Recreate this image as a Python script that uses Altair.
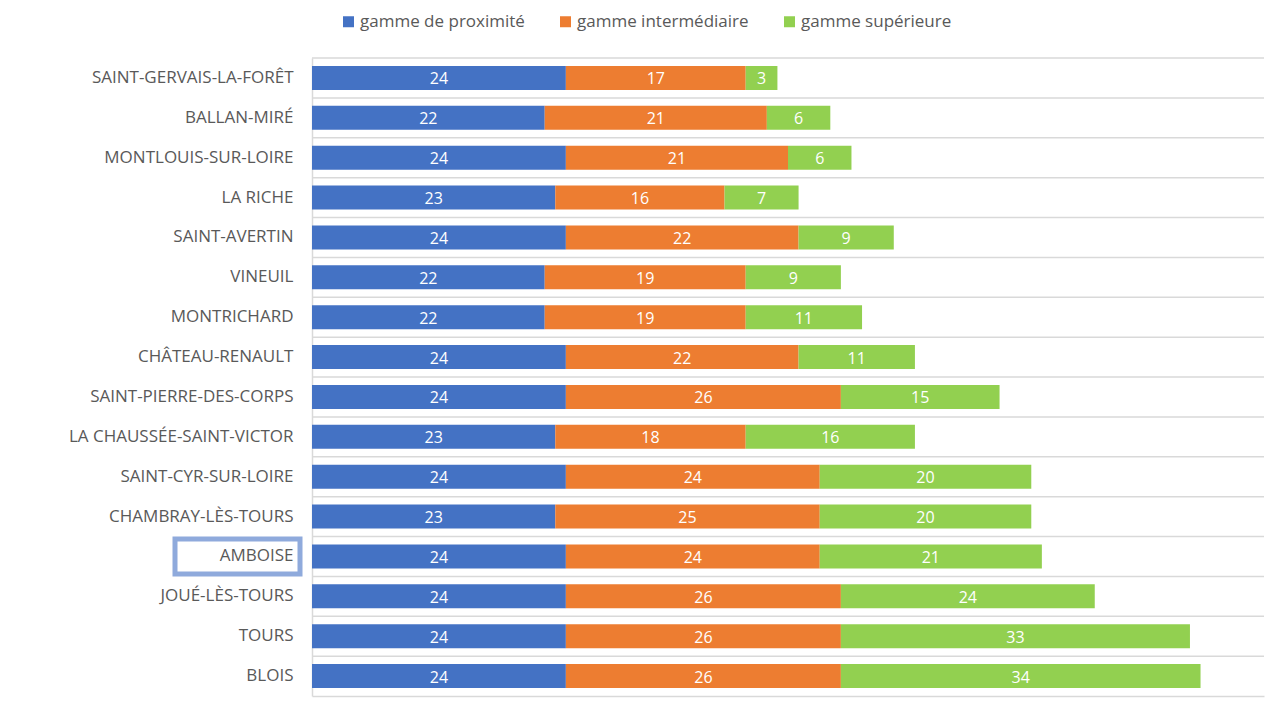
import altair as alt
import pandas as pd

cities = [
    "SAINT-GERVAIS-LA-FORÊT", "BALLAN-MIRÉ", "MONTLOUIS-SUR-LOIRE", "LA RICHE",
    "SAINT-AVERTIN", "VINEUIL", "MONTRICHARD", "CHÂTEAU-RENAULT",
    "SAINT-PIERRE-DES-CORPS", "LA CHAUSSÉE-SAINT-VICTOR", "SAINT-CYR-SUR-LOIRE",
    "CHAMBRAY-LÈS-TOURS", "AMBOISE", "JOUÉ-LÈS-TOURS", "TOURS", "BLOIS",
]
proximite = [24, 22, 24, 23, 24, 22, 22, 24, 24, 23, 24, 23, 24, 24, 24, 24]
intermediaire = [17, 21, 21, 16, 22, 19, 19, 22, 26, 18, 24, 25, 24, 26, 26, 26]
superieure = [3, 6, 6, 7, 9, 9, 11, 11, 15, 16, 20, 20, 21, 24, 33, 34]
series = ["gamme de proximité", "gamme intermédiaire", "gamme supérieure"]
colors = ["#4472c4", "#ed7d31", "#92d050"]
highlight = "AMBOISE"

rows = []
for i, c in enumerate(cities):
    for j, (s, vals) in enumerate(zip(series, [proximite, intermediaire, superieure])):
        rows.append({"city": c, "series": s, "order": j, "value": vals[i]})
df = pd.DataFrame(rows)

W, H = 952, 638
FONT = "Open Sans"
GRID = "#d9d9d9"

y_axis = alt.Axis(ticks=False, labelPadding=19, labelFontSize=17, labelColor="#595959",
                  labelFont=FONT, domainColor=GRID, domainWidth=1.5, grid=False, labelLimit=400)
y = alt.Y("city:N", sort=cities, title=None, axis=y_axis)
x_scale = alt.Scale(domain=[0, 90], nice=False, zero=True)
x_axis = alt.Axis(labels=False, ticks=False, grid=False, domainColor=GRID, domainWidth=1.5, title=None)

base = alt.Chart(df)

grid = base.transform_filter(alt.datum.order == 0).mark_rule(color=GRID, strokeWidth=1.5).encode(
    y=alt.Y("city:N", sort=cities, title=None, bandPosition=0, axis=y_axis)
)

bars = base.mark_bar(size=24).encode(
    x=alt.X("value:Q", stack="zero", scale=x_scale, axis=x_axis),
    y=y,
    color=alt.Color(
        "series:N",
        scale=alt.Scale(domain=series, range=colors),
        sort=series,
        legend=alt.Legend(
            orient="none", legendX=28, legendY=-45, direction="horizontal", title=None,
            symbolType="square", symbolSize=121, symbolStrokeWidth=0,
            labelFontSize=17, labelFont=FONT, labelColor="#595959", labelLimit=400,
            columnPadding=32, labelOffset=3,
        ),
    ),
    order=alt.Order("order:Q"),
)

labels = base.transform_stack(
    stack="value", as_=["x0", "x1"], groupby=["city"], sort=[alt.SortField("order")]
).transform_calculate(mid="(datum.x0 + datum.x1) / 2").mark_text(
    color="white", fontSize=16, font=FONT, dy=1.5
).encode(
    x=alt.X("mid:Q", scale=x_scale, axis=x_axis),
    y=y,
    text="value:Q",
)

box = base.transform_filter(
    (alt.datum.city == highlight) & (alt.datum.order == 0)
).mark_bar(filled=False, stroke="#8faadc", strokeWidth=5, size=35).encode(
    x=alt.value(-137), x2=alt.value(-12), y=y
)

chart = alt.layer(grid, bars, labels, box).properties(
    width=W, height=H,
    autosize=alt.AutoSizeParams(type="none"),
    padding={"left": 304, "top": 50, "right": 11, "bottom": 5},
).configure_view(stroke=None)

chart.save("out.html", embed_options={"renderer": "svg", "actions": False})
